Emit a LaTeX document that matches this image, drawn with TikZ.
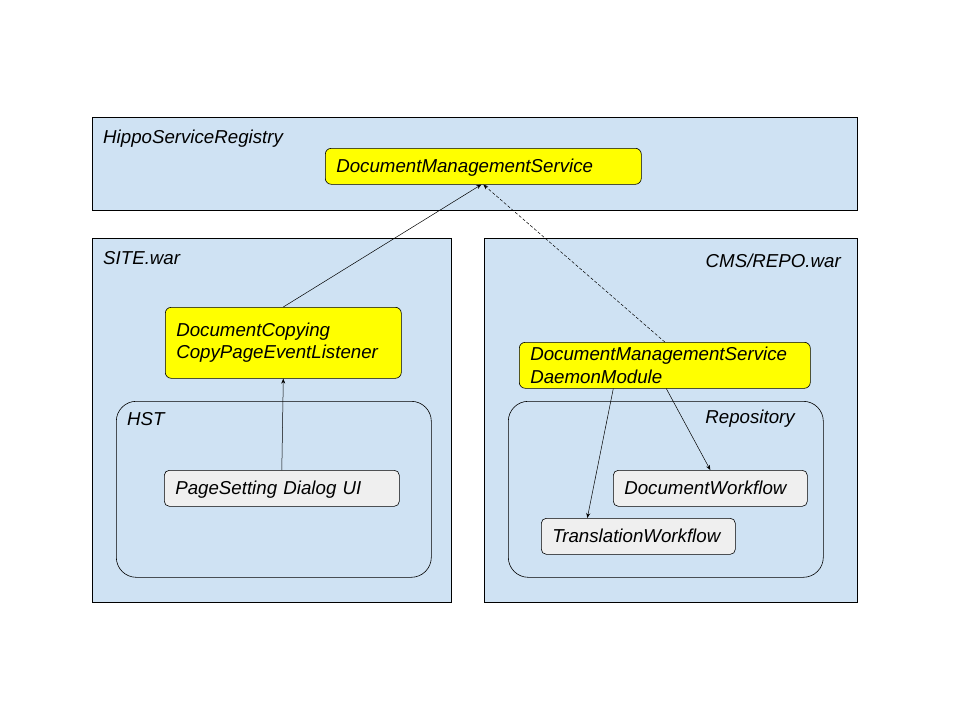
\documentclass[tikz,border=0pt]{standalone}
\usepackage{fontspec}
\setmainfont{Liberation Sans}
\usetikzlibrary{arrows.meta}
\definecolor{lblue}{HTML}{CFE2F3}
\definecolor{yel}{HTML}{FFFF00}
\definecolor{lgray}{HTML}{EFEFEF}
\tikzset{
  every node/.style={font=\fontsize{18.7}{22.5}\selectfont\itshape},
  container/.style={draw=black, line width=0.6pt, fill=lblue, anchor=north west, inner sep=0pt},
  group/.style={draw=black, line width=0.6pt, fill=lblue, rounded corners=20pt, anchor=north west, inner sep=0pt},
  ybox/.style={draw=black, line width=0.6pt, fill=yel, rounded corners=6pt, anchor=north west, inner xsep=11pt, inner ysep=0pt, align=left},
  gbox/.style={draw=black, line width=0.6pt, fill=lgray, rounded corners=5pt, anchor=north west, inner xsep=11pt, inner ysep=0pt, align=left},
  oneline/.style={text height=17pt, text depth=4pt},
  lbl/.style={inner sep=0pt},
  conn/.style={line width=0.5pt, -{Stealth[length=5pt,width=4pt]}},
}
\begin{document}
\begin{tikzpicture}[x=1pt,y=-1pt]
\useasboundingbox (0,0) rectangle (960,720);
% containers
\node[container, minimum width=765pt, minimum height=93pt] (reg) at (92,117) {};
\node[lbl, anchor=west] (reglbl) at (103,139) {HippoServiceRegistry};
\node[container, minimum width=359pt, minimum height=364pt] (site) at (92,238) {};
\node[lbl, anchor=west] (sitelbl) at (103,258) {SITE.war};
\node[container, minimum width=373pt, minimum height=364pt] (cms) at (484,238) {};
\node[lbl, anchor=east] (cmslbl) at (841,261) {CMS/REPO.war};
\node[group, minimum width=315pt, minimum height=176pt] (hst) at (116,401) {};
\node[lbl, anchor=west] (hstlbl) at (127,419) {HST};
\node[group, minimum width=315pt, minimum height=176pt] (repo) at (508,401) {};
\node[lbl, anchor=east] (repolbl) at (795,419) {Repository};
% boxes
\node[ybox, oneline, minimum width=316pt, minimum height=36pt, text width=294pt] (dms) at (325,148) {DocumentManagementService};
\node[ybox, minimum width=236pt, minimum height=71pt, text width=214pt] (dc) at (165,307) {DocumentCopying\\CopyPageEventListener};
\node[gbox, oneline, minimum width=235pt, minimum height=36pt, text width=213pt] (ps) at (164,470) {PageSetting Dialog UI};
\node[ybox, minimum width=291pt, minimum height=46pt, text width=269pt] (dm) at (519,342) {DocumentManagementService\\DaemonModule};
\node[gbox, oneline, minimum width=194pt, minimum height=36pt, text width=172pt] (dw) at (613,470) {DocumentWorkflow};
\node[gbox, oneline, minimum width=194pt, minimum height=36pt, text width=172pt] (tw) at (541,518) {TranslationWorkflow};
% connectors
\draw[conn] (dc.north) -- ([xshift=-2pt]dms.south);
\draw[conn, dashed, dash pattern=on 3pt off 2pt] (dm.north) -- (dms.south);
\draw[conn] (ps.north) -- (dc.south);
\draw[conn] ([xshift=-51.5pt]dm.south) -- ([xshift=-51pt]tw.north);
\draw[conn] ([xshift=1.5pt]dm.south) -- (dw.north);
\end{tikzpicture}
\end{document}
